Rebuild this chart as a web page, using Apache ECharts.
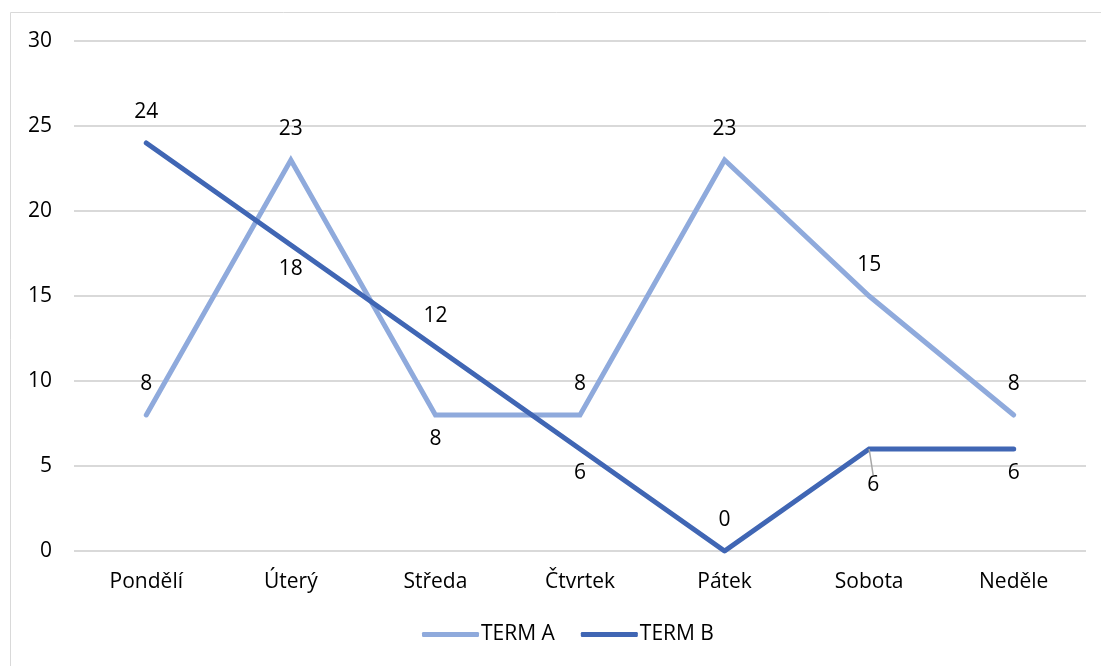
<!DOCTYPE html>
<html><head><meta charset="utf-8">
<script src="https://cdn.jsdelivr.net/npm/echarts@6/dist/echarts.min.js"></script>
<style>html,body{margin:0;padding:0;background:#fff}#c{width:1101px;height:666px}</style>
</head><body><div id="c"></div>
<script>
const categories = ['Pondělí','Úterý','Středa','Čtvrtek','Pátek','Sobota','Neděle'];
const termA = [8, 23, 8, 8, 23, 15, 8];
const termB = [24, 18, 12, 6, 0, 6, 6];
const labelPosA = ['top','top','bottom','top','top','top','top'];
const labelPosB = ['top','bottom','top','bottom','top','bottom','bottom'];
const yTicks = [0, 5, 10, 15, 20, 25, 30];

const FONT = '"Open Sans", "Noto Sans", sans-serif';
const FS = 21;
const chart = echarts.init(document.getElementById('c'), null, {renderer:'canvas'});

function mk(vals, pos, extra) {
  return vals.map((v, i) => {
    const lab = {position: pos[i], distance: pos[i] === 'top' ? 20 : 14};
    if (extra && extra[i]) Object.assign(lab, extra[i]);
    return {value: v, label: lab};
  });
}

const dataB = mk(termB, labelPosB, {2: {offset: [0, 2]}});
dataB[5].labelLine = {show: true, lineStyle: {color: '#a6a6a6', width: 1.5}};

chart.setOption({
  animation: false,
  graphic: [{
    type: 'rect', shape: {x: 10.5, y: 12.5, width: 1100, height: 660},
    style: {fill: 'none', stroke: '#d9d9d9', lineWidth: 1}, silent: true
  }],
  grid: {left: 74, right: 15, top: 41, bottom: 115},
  legend: {
    bottom: 16, left: 417, itemWidth: 57, itemHeight: 5, itemGap: 26,
    textStyle: {fontFamily: FONT, fontSize: FS, color: '#000', padding: [0,0,0,-3]},
    icon: 'roundRect',
    data: ['TERM A', 'TERM B']
  },
  xAxis: {
    type: 'category', data: categories, boundaryGap: true,
    axisLine: {show: false}, axisTick: {show: false},
    axisLabel: {fontFamily: FONT, fontSize: FS, color: '#000', margin: 21}
  },
  yAxis: {
    type: 'value', min: yTicks[0], max: yTicks[yTicks.length-1], interval: 5,
    axisLine: {show: false}, axisTick: {show: false},
    axisLabel: {fontFamily: FONT, fontSize: FS, color: '#000', margin: 22},
    splitLine: {lineStyle: {color: '#d9d9d9', width: 2}}
  },
  series: [
    {
      name: 'TERM A', type: 'line', data: mk(termA, labelPosA),
      symbol: 'circle', symbolSize: 0.01, showSymbol: true,
      lineStyle: {color: '#8FAADC', width: 5, cap: 'round', join: 'miter'},
      itemStyle: {color: '#8FAADC'},
      label: {show: true, fontFamily: FONT, fontSize: FS, color: '#000'},
      z: 2
    },
    {
      name: 'TERM B', type: 'line', data: dataB,
      symbol: 'circle', symbolSize: 0.01, showSymbol: true,
      lineStyle: {color: '#4066B4', width: 5, cap: 'round', join: 'miter'},
      itemStyle: {color: '#4066B4'},
      label: {show: true, fontFamily: FONT, fontSize: FS, color: '#000'},
      labelLine: {show: false},
      labelLayout: function (p) { return p.dataIndex === 5 ? {dx: 4, dy: 12} : {}; },
      z: 3
    }
  ]
});
</script></body></html>
